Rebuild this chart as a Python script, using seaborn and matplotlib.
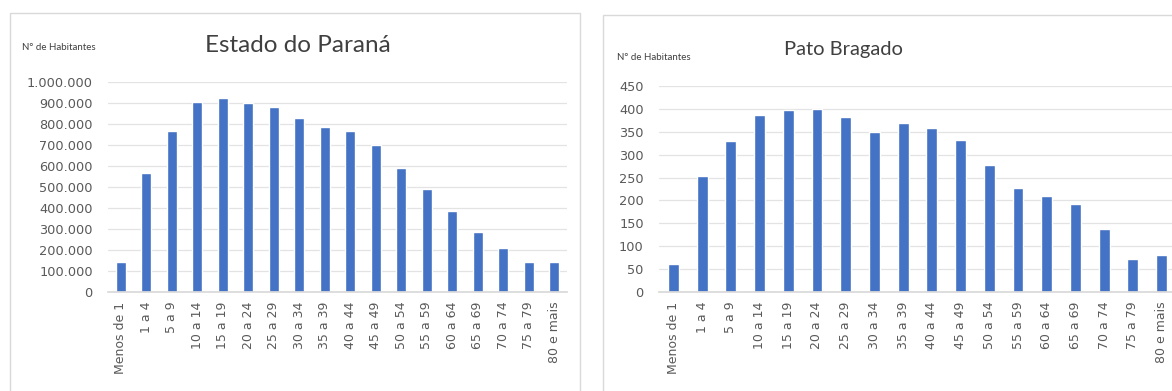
import seaborn as sns
import matplotlib
matplotlib.use('Agg')
import matplotlib.pyplot as plt
from matplotlib.patches import Rectangle
from matplotlib.ticker import FuncFormatter, MultipleLocator
import pandas

faixas = ["Menos de 1", "1 a 4", "5 a 9", "10 a 14", "15 a 19", "20 a 24", "25 a 29",
          "30 a 34", "35 a 39", "40 a 44", "45 a 49", "50 a 54", "55 a 59", "60 a 64",
          "65 a 69", "70 a 74", "75 a 79", "80 e mais"]
parana = [145000, 565000, 765000, 905000, 925000, 900000, 880000, 830000, 785000,
          765000, 700000, 590000, 490000, 385000, 285000, 210000, 145000, 145000]
pato_bragado = [62, 253, 330, 387, 397, 400, 382, 350, 370, 358, 332, 277, 227, 210,
                192, 138, 72, 80]

sns.set_theme(style="white")
plt.rcParams['font.family'] = ['DejaVu Sans']

AZUL = "#4472C4"
CINZA = "#595959"

fig = plt.figure(figsize=(11.72, 3.91), dpi=100)
W, H = 1172, 391

def px(x0, y0, x1, y1):
    # caixa em pixels -> fracao da figura
    return [x0 / W, 1 - y1 / H, (x1 - x0) / W, (y1 - y0) / H]

# molduras dos graficos
for (x0, y0, x1, y1) in [(10, 13, 580, 395), (603, 15, 1175, 395)]:
    fig.patches.append(Rectangle((x0 / W, 1 - y1 / H), (x1 - x0) / W, (y1 - y0) / H,
                                 transform=fig.transFigure, fill=False,
                                 edgecolor="#d9d9d9", linewidth=1.0))

def ponto(v, pos):
    return f"{int(v):,}".replace(",", ".")

def painel(box, valores, titulo, tam_titulo, passo, topo, titulo_xy, ylabel_xy):
    ax = fig.add_axes(px(*box))
    df = pandas.DataFrame({"faixa": faixas, "hab": valores})
    sns.barplot(data=df, x="faixa", y="hab", color=AZUL, width=0.38, saturation=1, ax=ax)
    ax.set_ylim(0, topo)
    ax.yaxis.set_major_locator(MultipleLocator(passo))
    ax.yaxis.set_major_formatter(FuncFormatter(ponto))
    ax.grid(axis="y", color="#e3e3e3", linewidth=0.9)
    ax.set_axisbelow(True)
    for s in ["top", "right", "left"]:
        ax.spines[s].set_visible(False)
    ax.spines["bottom"].set_color("#d9d9d9")
    ax.set_xlabel("")
    ax.set_ylabel("")
    ax.tick_params(axis="x", labelrotation=90, labelsize=9, colors=CINZA, length=0, pad=7)
    ax.tick_params(axis="y", labelsize=9.3, colors=CINZA, length=0, pad=11)
    fig.text(titulo_xy[0] / W, 1 - titulo_xy[1] / H, titulo, ha="center", va="center",
             fontsize=tam_titulo, color="#404040", family=["Lato", "DejaVu Sans"])
    fig.text(ylabel_xy[0] / W, 1 - ylabel_xy[1] / H, "N° de Habitantes", ha="left",
             va="center", fontsize=7, color="#404040", family=["Lato", "DejaVu Sans"])
    return ax

painel((108, 82, 567, 292), parana, "Estado do Paraná", 17.5, 100000, 1000000,
       (298, 46), (22, 48))
painel((659, 86, 1176, 292), pato_bragado, "Pato Bragado", 14.5, 50, 450,
       (843, 50), (617, 57))

fig.savefig("out.png", dpi=100)
